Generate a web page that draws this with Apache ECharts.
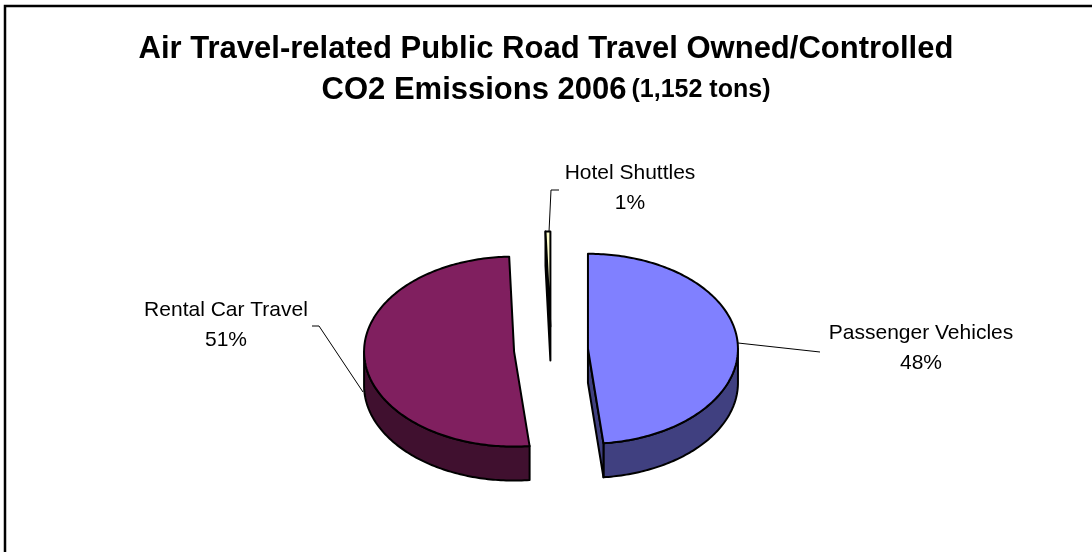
<!DOCTYPE html>
<html><head><meta charset="utf-8">
<script src="https://cdn.jsdelivr.net/npm/echarts@6/dist/echarts.min.js"></script>
<style>html,body{margin:0;padding:0;background:#fff}#c{width:1092px;height:552px}</style>
</head><body><div id="c"></div>
<script>
// ---- data ----
const categories = ['Passenger Vehicles', 'Rental Car Travel', 'Hotel Shuttles'];
const emissionsTons = [557, 589, 6];
const titleLine1 = 'Air Travel-related Public Road Travel Owned/Controlled';
const titleLine2 = 'CO2 Emissions 2006';
const titleNote = '(1,152 tons)';

// ---- style / layout ----
const FONT = "'Liberation Sans', Arial, sans-serif";
const topColors = ['#8080FF', '#801F5F', '#FFFFCC'];
const sideColors = ['#404080', '#40102F', '#55553F'];
const geo = { cx: 551, cy: 350, rx: 150, ry: 95, depth: 34, explode: 37 };
const labelLayout = [
  { x: 921, y: 348, line: [[738, 343], [820, 352]] },
  { x: 226, y: 325, line: [[363, 392], [319, 326], [312, 326]] },
  { x: 630, y: 188, line: [[549, 232], [551, 190], [559, 190]] }
];

const total = emissionsTons.reduce((a, b) => a + b, 0);

function renderItem(params, api) {
  const i = params.dataIndex;
  let acc = 0;
  for (let k = 0; k < i; k++) acc += emissionsTons[k];
  const v = api.value(0);
  const a0 = acc / total * 360, a1 = (acc + v) / total * 360;
  const mid = (a0 + a1) / 2 * Math.PI / 180;
  const kk = geo.ry / geo.rx;
  const cx = geo.cx + geo.explode * Math.sin(mid);
  const cy = geo.cy - geo.explode * kk * Math.cos(mid);
  const P = (deg, dz) => {
    const r = deg * Math.PI / 180;
    return [cx + geo.rx * Math.sin(r), cy - geo.ry * Math.cos(r) + (dz || 0)];
  };
  const arc = (from, to, dz) => {
    const pts = [];
    const n = Math.max(2, Math.ceil(Math.abs(to - from)));
    for (let j = 0; j <= n; j++) pts.push(P(from + (to - from) * j / n, dz));
    return pts;
  };
  const stroke = { stroke: '#000', lineWidth: 2, lineJoin: 'round' };
  const children = [];
  // side wall (front half only)
  const s0 = Math.max(a0, 90), s1 = Math.min(a1, 270);
  if (s1 > s0) {
    children.push({ type: 'polygon', shape: { points: arc(s0, s1, 0).concat(arc(s1, s0, geo.depth)) },
      style: Object.assign({ fill: sideColors[i] }, stroke) });
  }
  // cut faces
  const face = deg => {
    const rim = P(deg, 0);
    return [[cx, cy], rim, [rim[0], rim[1] + geo.depth], [cx, cy + geo.depth]];
  };
  if (Math.sin(a0 * Math.PI / 180) < -1e-6) {
    children.push({ type: 'polygon', shape: { points: face(a0) }, style: Object.assign({ fill: sideColors[i] }, stroke) });
  }
  if (Math.sin(a1 * Math.PI / 180) > 1e-6) {
    children.push({ type: 'polygon', shape: { points: face(a1) }, style: Object.assign({ fill: sideColors[i] }, stroke) });
  }
  // top face
  children.push({ type: 'polygon', shape: { points: [[cx, cy]].concat(arc(a0, a1, 0)) },
    style: Object.assign({ fill: topColors[i] }, stroke) });
  // label + leader
  const L = labelLayout[i];
  children.push({ type: 'polyline', shape: { points: L.line }, style: { stroke: '#000', lineWidth: 1, fill: null } });
  children.push({ type: 'text', style: {
    text: categories[i] + '\n' + Math.round(v / total * 100) + '%',
    x: L.x, y: L.y, textAlign: 'center', textVerticalAlign: 'middle',
    fontSize: 21, fontFamily: FONT, fill: '#000', lineHeight: 30 } });
  return { type: 'group', children };
}

const chart = echarts.init(document.getElementById('c'), null, { renderer: 'canvas' });
chart.setOption({
  backgroundColor: '#fff',
  animation: false,
  title: [
    { text: titleLine1, left: 'center', top: 32, padding: 0,
      textStyle: { fontFamily: FONT, fontWeight: 'bold', fontSize: 31, color: '#000', lineHeight: 34 } },
    { text: '{a|' + titleLine2 + '} {b|' + titleNote + '}', left: 'center', top: 73, padding: 0,
      textStyle: { rich: {
        a: { fontFamily: FONT, fontWeight: 'bold', fontSize: 31, color: '#000', lineHeight: 34 },
        b: { fontFamily: FONT, fontWeight: 'bold', fontSize: 25, color: '#000', lineHeight: 34 } } } }
  ],
  graphic: [{ type: 'rect', shape: { x: 5, y: 6, width: 1200, height: 700 },
    style: { fill: null, stroke: '#000', lineWidth: 2.5 }, silent: true }],
  series: [{
    type: 'custom', coordinateSystem: 'none', silent: true,
    renderItem: renderItem,
    data: emissionsTons.map(v => [v])
  }]
});
</script></body></html>
